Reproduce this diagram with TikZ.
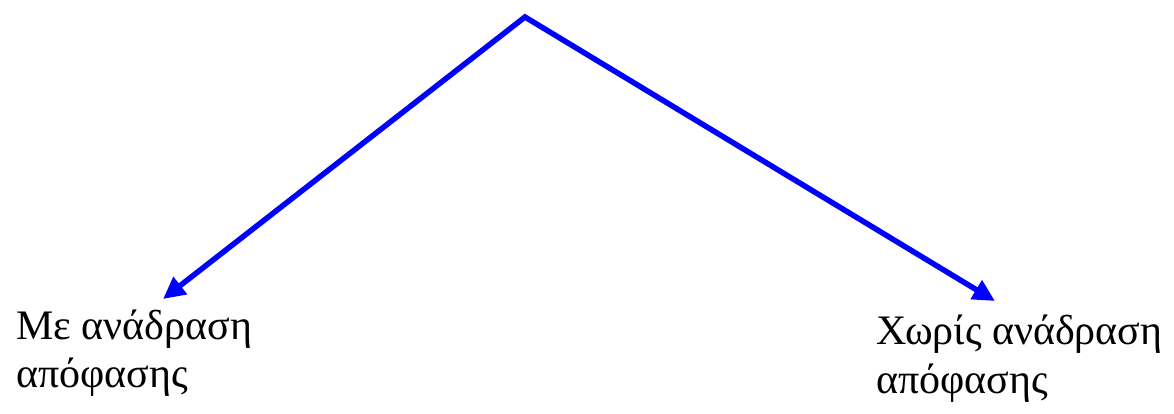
\documentclass[tikz,border=0pt]{standalone}
\usepackage{fontspec}
\setmainfont{Liberation Serif}
\usetikzlibrary{arrows.meta}
\definecolor{arrowblue}{RGB}{0,0,255}
\tikzset{
  conn/.style={draw=arrowblue, line width=5.5pt, line join=miter,
    {Triangle[length=22pt,width=21pt]}-{Triangle[length=22pt,width=21pt]}},
  lbl/.style={anchor=base west, inner sep=0pt, font=\fontsize{42}{50}\selectfont}
}
\begin{document}
\begin{tikzpicture}[x=1pt,y=-1pt]
\useasboundingbox (0,0) rectangle (1174,413);
\coordinate (apex) at (525,17);
\coordinate (tipL) at (163,299);
\coordinate (tipR) at (995,301);
\draw[conn] (tipL) -- (apex) -- (tipR);
\node[lbl] (l1) at (16,339) {Με ανάδραση};
\node[lbl] (l2) at (16,387) {απόφασης};
\node[lbl] (r1) at (876,344) {Χωρίς ανάδραση};
\node[lbl] (r2) at (876,393) {απόφασης};
\end{tikzpicture}
\end{document}
